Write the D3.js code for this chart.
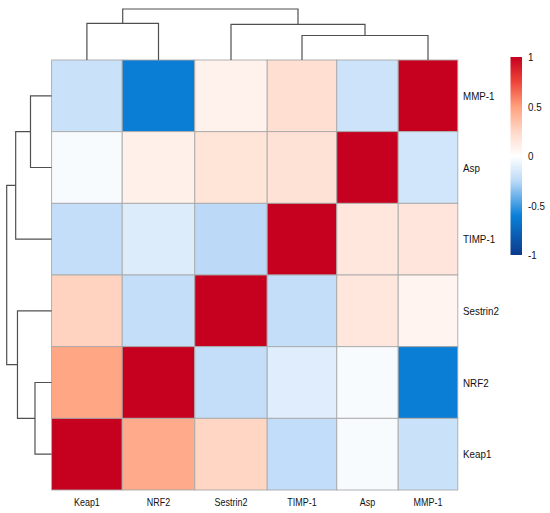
<html>
<head>
  <script src="https://unpkg.com/d3@7/dist/d3.min.js"></script>
  <style>
    body { margin: 0; background: #fff; }
    text { font-family: "Liberation Sans", Arial, sans-serif; fill: #111; }
  </style>
</head>
<body>
  <svg id="container" width="550" height="513"></svg>
<script>
  // column order (left -> right) and row order (top -> bottom)
  const colNames = ['Keap1', 'NRF2', 'Sestrin2', 'TIMP-1', 'Asp', 'MMP-1'];
  const rowNames = ['MMP-1', 'Asp', 'TIMP-1', 'Sestrin2', 'NRF2', 'Keap1'];

  // correlation values, one array per row
  const rowMMP1     = [-0.20, -0.62, 0.08, 0.20, -0.19, 1.00];
  const rowAsp      = [-0.03, 0.09, 0.17, 0.18, 1.00, -0.17];
  const rowTIMP1    = [-0.22, -0.13, -0.25, 1.00, 0.15, 0.16];
  const rowSestrin2 = [0.27, -0.22, 1.00, -0.22, 0.15, 0.07];
  const rowNRF2     = [0.47, 1.00, -0.22, -0.12, -0.03, -0.62];
  const rowKeap1    = [1.00, 0.45, 0.26, -0.23, -0.03, -0.20];
  const matrix = [rowMMP1, rowAsp, rowTIMP1, rowSestrin2, rowNRF2, rowKeap1];

  const legendTicks = [1, 0.5, 0, -0.5, -1];

  // dendrograms: [left, right, merge height]
  const topTree = [['Keap1', 'NRF2', 0.72], ['Sestrin2', ['TIMP-1', 'MMP-1', 0.48], 0.70], 1.0];
  const leftTree = [[['MMP-1', 'Asp', 0.47], 'TIMP-1', 0.80], ['Sestrin2', ['NRF2', 'Keap1', 0.37], 0.76], 1.0];

  const svg = d3.select('#container');

  const mapTop = 60, mapBottom = 490, mapLeft = 51.6;
  // the columns of the figure are not all the same width
  const colWidths = [70.6, 72.6, 72.4, 69.6, 61.4, 59.6];
  const edges = [mapLeft];
  colWidths.forEach(w => edges.push(edges[edges.length - 1] + w));

  const xIdx = d3.scaleLinear().domain(d3.range(colNames.length + 1)).range(edges);
  const xCenter = name => {
    const i = colNames.indexOf(name);
    return (xIdx(i) + xIdx(i + 1)) / 2;
  };
  const y = d3.scaleBand().domain(rowNames).range([mapTop, mapBottom]);

  const color = d3.scaleLinear()
    .domain([-1, -0.6, -0.25, 0, 0.25, 0.5, 0.75, 1])
    .range(['#0b3a8c', '#0a80d8', '#bcdaf8', '#ffffff', '#ffd7c6', '#ffa07c', '#ee4438', '#c6001f'])
    .interpolate(d3.interpolateRgb);

  const cells = [];
  matrix.forEach((row, r) => row.forEach((v, c) => cells.push({r: rowNames[r], c: c, v: v})));

  svg.append('g').selectAll('rect')
    .data(cells)
    .enter()
    .append('rect')
    .attr('x', d => xIdx(d.c))
    .attr('y', d => y(d.r))
    .attr('width', d => xIdx(d.c + 1) - xIdx(d.c))
    .attr('height', y.bandwidth())
    .attr('fill', d => color(d.v))
    .attr('stroke', '#a9a9a9')
    .attr('stroke-width', 0.9);

  // labels (the figure text is a bit condensed)
  const sx = 0.86;
  svg.append('g').selectAll('text')
    .data(colNames)
    .enter()
    .append('text')
    .attr('transform', d => `translate(${xCenter(d)}, 506) scale(${sx}, 1)`)
    .attr('text-anchor', 'middle')
    .style('font-size', '10.4px')
    .text(d => d);

  svg.append('g').selectAll('text')
    .data(rowNames)
    .enter()
    .append('text')
    .attr('transform', d => `translate(463, ${y(d) + y.bandwidth() / 2}) scale(${sx}, 1)`)
    .attr('dy', '0.35em')
    .style('font-size', '11.4px')
    .text(d => d);

  // dendrogram drawing
  function drawTree(tree, pos, hScale, vertical) {
    const paths = [];
    function walk(node) {
      if (typeof node === 'string') return {p: pos(node), h: 0};
      const a = walk(node[0]);
      const b = walk(node[1]);
      const h = node[2];
      if (vertical) {
        paths.push(`M${a.p},${hScale(a.h)}V${hScale(h)}H${b.p}V${hScale(b.h)}`);
      } else {
        paths.push(`M${hScale(a.h)},${a.p}H${hScale(h)}V${b.p}H${hScale(b.h)}`);
      }
      return {p: (a.p + b.p) / 2, h: h};
    }
    walk(tree);
    svg.append('g').selectAll('path')
      .data(paths)
      .enter()
      .append('path')
      .attr('d', d => d)
      .attr('fill', 'none')
      .attr('stroke', '#505050')
      .attr('stroke-width', 1.2);
  }

  drawTree(topTree, xCenter, d3.scaleLinear().domain([0, 1]).range([mapTop, 9]), true);
  drawTree(leftTree, name => y(name) + y.bandwidth() / 2,
    d3.scaleLinear().domain([0, 1]).range([mapLeft, 6.7]), false);

  // colour legend
  const ly = d3.scaleLinear().domain([-1, 1]).range([255, 57]);
  const defs = svg.append('defs');
  const grad = defs.append('linearGradient')
    .attr('id', 'legendGrad')
    .attr('x1', 0).attr('y1', 1).attr('x2', 0).attr('y2', 0);
  grad.selectAll('stop')
    .data(d3.range(-1, 1.0001, 0.05))
    .enter()
    .append('stop')
    .attr('offset', d => (d + 1) / 2)
    .attr('stop-color', d => color(d));

  svg.append('rect')
    .attr('x', 510.5)
    .attr('y', ly(1))
    .attr('width', 11.5)
    .attr('height', ly(-1) - ly(1))
    .attr('fill', 'url(#legendGrad)');

  svg.append('g').selectAll('text')
    .data(legendTicks)
    .enter()
    .append('text')
    .attr('transform', d => `translate(528, ${ly(d)}) scale(${sx}, 1)`)
    .attr('dy', '0.35em')
    .style('font-size', '11.4px')
    .text(d => String(d));
</script>
</body>
</html>
